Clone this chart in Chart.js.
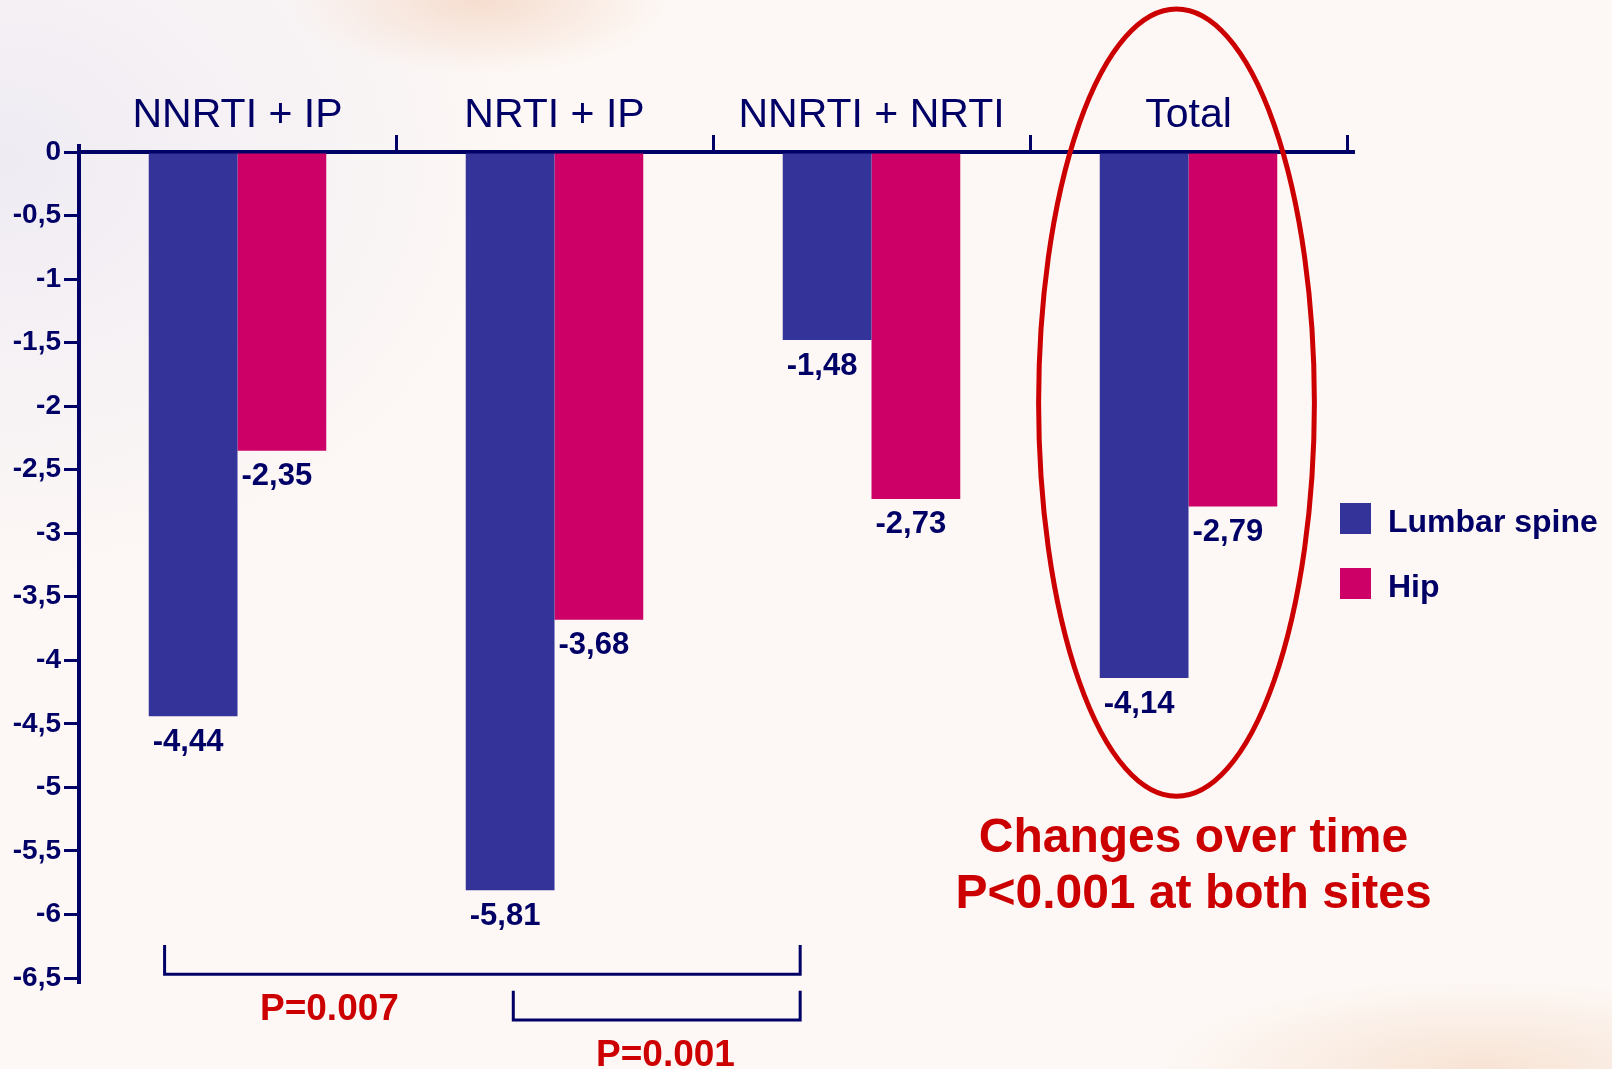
<!DOCTYPE html>
<html>
<head>
<meta charset="utf-8">
<script src="https://cdn.jsdelivr.net/npm/chart.js@4.4.1/dist/chart.umd.min.js"></script>
<style>
  html, body { margin: 0; padding: 0; }
  body {
    width: 1612px; height: 1069px; overflow: hidden; position: relative;
    font-family: "Liberation Sans", Arial, sans-serif;
    background:
      radial-gradient(ellipse 190px 75px at 480px 0px, rgba(243,212,194,0.75), rgba(243,212,194,0) 100%),
      radial-gradient(ellipse 520px 420px at 0px 160px, rgba(236,233,243,0.85), rgba(236,233,243,0) 100%),
      radial-gradient(ellipse 320px 90px at 1480px 1069px, rgba(246,222,204,0.8), rgba(246,222,204,0) 100%),
      #fdf8f5;
  }
  #wrap { position: absolute; left: 0; top: 0; width: 1612px; height: 1069px; }
  #legend { position: absolute; left: 1340px; top: 503px; }
  .lg-item { display: flex; align-items: center; height: 31px; margin-bottom: 34px; }
  .lg-box { width: 31px; height: 31px; margin-right: 17px; }
  .lg-text { font-weight: bold; font-size: 32px; color: #000066; white-space: nowrap; position: relative; top: 3px; }
</style>
</head>
<body>
<div id="wrap"><canvas id="chart"></canvas></div>
<div id="legend"></div>
<script>
// BMD change by regimen (%)
const CATEGORIES = ['NNRTI + IP', 'NRTI + IP', 'NNRTI + NRTI', 'Total'];
const SERIES = ['Lumbar spine', 'Hip'];
const LUMBAR = [-4.44, -5.81, -1.48, -4.14];
const HIP = [-2.35, -3.68, -2.73, -2.79];
const COLORS = ['#333399', '#cc0066'];
const Y_TICKS = [0, -0.5, -1, -1.5, -2, -2.5, -3, -3.5, -4, -4.5, -5, -5.5, -6, -6.5];
const P_LABELS = ['P=0.007', 'P=0.001'];
const NOTE_LINES = ['Changes over time', 'P<0.001 at both sites'];

const NAVY = '#000066';
const RED = '#cc0000';
const fmtNum = v => String(v).replace('.', ',');

// legend (html, built from the series)
const legend = document.getElementById('legend');
SERIES.forEach((name, i) => {
  const row = document.createElement('div');
  row.className = 'lg-item';
  row.innerHTML = `<div class="lg-box" style="background:${COLORS[i]}"></div><div class="lg-text">${name}</div>`;
  legend.appendChild(row);
});

// value labels under each bar end
const valueLabels = {
  id: 'valueLabels',
  afterDatasetsDraw(chart) {
    const { ctx } = chart;
    ctx.save();
    ctx.font = 'bold 31px "Liberation Sans", Arial, sans-serif';
    ctx.fillStyle = NAVY;
    ctx.textAlign = 'center';
    ctx.textBaseline = 'middle';
    chart.data.datasets.forEach((ds, di) => {
      chart.getDatasetMeta(di).data.forEach((bar, i) => {
        ctx.fillText(fmtNum(ds.data[i]), bar.x - 5, bar.y + 26);
      });
    });
    ctx.restore();
  },
};

// brackets, ellipse round "Total", red notes
const annotations = {
  id: 'annotations',
  afterDraw(chart) {
    const { ctx, scales } = chart;
    const x = scales.x, y = scales.y;
    const cw = x.getPixelForValue(1) - x.getPixelForValue(0);
    ctx.save();

    // small extensions of the axes
    ctx.strokeStyle = NAVY;
    ctx.lineWidth = 4;
    ctx.beginPath();
    ctx.moveTo(x.left, chart.chartArea.top - 8); ctx.lineTo(x.left, chart.chartArea.bottom + 6);
    ctx.moveTo(x.right, chart.chartArea.top); ctx.lineTo(x.right + 8, chart.chartArea.top);
    ctx.stroke();

    // comparison brackets
    ctx.lineWidth = 3;
    const bracket = (x1, x2, yTop, yBot) => {
      ctx.beginPath();
      ctx.moveTo(x1, yTop); ctx.lineTo(x1, yBot); ctx.lineTo(x2, yBot); ctx.lineTo(x2, yTop);
      ctx.stroke();
    };
    const bRight = x.getPixelForValue(2) - 0.225 * cw;
    bracket(x.getPixelForValue(0) - 0.23 * cw, bRight, y.getPixelForValue(-6.24), y.getPixelForValue(-6.47));
    bracket(x.getPixelForValue(1) - 0.13 * cw, bRight, y.getPixelForValue(-6.6), y.getPixelForValue(-6.83));

    ctx.fillStyle = RED;
    ctx.textAlign = 'center';
    ctx.textBaseline = 'middle';
    ctx.font = 'bold 37px "Liberation Sans", Arial, sans-serif';
    ctx.fillText(P_LABELS[0], x.getPixelForValue(0) + 0.29 * cw, y.getPixelForValue(-6.75));
    ctx.fillText(P_LABELS[1], x.getPixelForValue(1) + 0.35 * cw, y.getPixelForValue(-7.11));

    // ellipse round the Total group
    const cx = x.getPixelForValue(3) - 12;
    const yT = y.getPixelForValue(1.125), yB = y.getPixelForValue(-5.07);
    ctx.strokeStyle = RED;
    ctx.lineWidth = 5;
    ctx.beginPath();
    ctx.ellipse(cx, (yT + yB) / 2, 0.435 * cw, (yB - yT) / 2, 0, 0, Math.PI * 2);
    ctx.stroke();

    ctx.font = 'bold 48px "Liberation Sans", Arial, sans-serif';
    ctx.fillText(NOTE_LINES[0], x.getPixelForValue(3) + 5, 839);
    ctx.fillText(NOTE_LINES[1], x.getPixelForValue(3) + 5, 895);
    ctx.restore();
  },
};

new Chart(document.getElementById('chart'), {
  type: 'bar',
  data: {
    labels: CATEGORIES,
    datasets: [
      { label: SERIES[0], data: LUMBAR, backgroundColor: COLORS[0] },
      { label: SERIES[1], data: HIP, backgroundColor: COLORS[1] },
    ],
  },
  options: {
    responsive: true,
    maintainAspectRatio: false,
    animation: false,
    categoryPercentage: 0.56,
    barPercentage: 1,
    layout: { padding: { top: 0, left: 0, right: 265, bottom: 91 } },
    plugins: { legend: { display: false }, tooltip: { enabled: false } },
    scales: {
      x: {
        position: 'top',
        offset: true,
        afterFit: s => { s.height = 152; },
        border: { display: true, color: NAVY, width: 4 },
        grid: {
          offset: true,
          drawOnChartArea: false,
          drawTicks: true,
          tickLength: 17,
          lineWidth: 3,
          color: ctx => (ctx.index === 0 ? 'rgba(0,0,0,0)' : NAVY),
        },
        ticks: {
          color: NAVY,
          padding: -1,
          maxRotation: 0,
          autoSkip: false,
          font: { family: '"Liberation Sans", Arial, sans-serif', size: 41, lineHeight: 1 },
        },
      },
      y: {
        min: -6.5,
        max: 0,
        afterFit: s => { s.width = 79; },
        afterBuildTicks: s => { s.ticks = Y_TICKS.map(v => ({ value: v })); },
        border: { display: true, color: NAVY, width: 4 },
        grid: { drawOnChartArea: false, drawTicks: true, tickLength: 15, lineWidth: 3, color: NAVY },
        ticks: {
          color: NAVY,
          padding: 3,
          callback: v => fmtNum(v),
          font: { family: '"Liberation Sans", Arial, sans-serif', size: 28, weight: 'bold' },
        },
      },
    },
  },
  plugins: [valueLabels, annotations],
});
</script>
</body>
</html>
